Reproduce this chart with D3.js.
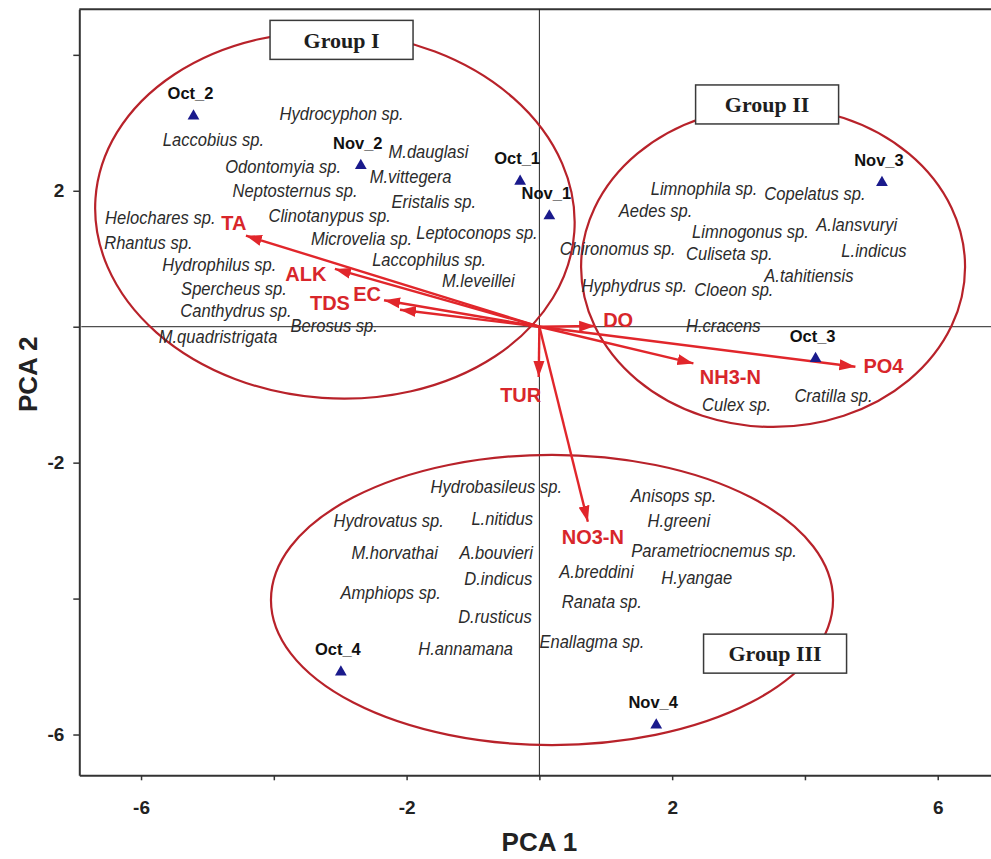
<!DOCTYPE html>
<html>
<head>
<meta charset="utf-8">
<script src="https://cdn.jsdelivr.net/npm/d3@7"></script>
<style>
  html, body { margin: 0; padding: 0; background: #fff; overflow: hidden; }
  svg { display: block; }
</style>
</head>
<body>
<svg id="chart" width="991" height="859"></svg>
<script>
// Sampling sites (PC1, PC2 scores)
const samples = [
  { id: "Oct_1", pc1: -0.29, pc2: 2.14 },
  { id: "Nov_1", pc1: 0.15, pc2: 1.63 },
  { id: "Oct_2", pc1: -5.21, pc2: 3.10 },
  { id: "Nov_2", pc1: -2.69, pc2: 2.37 },
  { id: "Oct_3", pc1: 4.16, pc2: -0.47 },
  { id: "Nov_3", pc1: 5.16, pc2: 2.12 },
  { id: "Oct_4", pc1: -2.99, pc2: -5.08 },
  { id: "Nov_4", pc1: 1.76, pc2: -5.86 }
];

// Environmental variable loadings (arrow tips)
const variables = [
  { name: "TA", pc1: -4.42, pc2: 1.34 },
  { name: "ALK", pc1: -3.08, pc2: 0.85 },
  { name: "EC", pc1: -2.34, pc2: 0.39 },
  { name: "TDS", pc1: -2.10, pc2: 0.25 },
  { name: "DO", pc1: 0.84, pc2: 0.01 },
  { name: "NH3-N", pc1: 2.32, pc2: -0.54 },
  { name: "PO4", pc1: 4.76, pc2: -0.59 },
  { name: "TUR", pc1: -0.01, pc2: -0.74 },
  { name: "NO3-N", pc1: 0.73, pc2: -2.87 }
];

// Taxa scores
const speciesGroupI = [
  { name: "Hydrocyphon sp.", pc1: -2.98, pc2: 3.13 },
  { name: "Laccobius sp.", pc1: -4.91, pc2: 2.75 },
  { name: "M.dauglasi", pc1: -1.67, pc2: 2.57 },
  { name: "Odontomyia sp.", pc1: -3.86, pc2: 2.36 },
  { name: "M.vittegera", pc1: -1.94, pc2: 2.21 },
  { name: "Neptosternus sp.", pc1: -3.68, pc2: 2.00 },
  { name: "Eristalis sp.", pc1: -1.59, pc2: 1.84 },
  { name: "Helochares sp.", pc1: -5.71, pc2: 1.61 },
  { name: "Clinotanypus sp.", pc1: -3.16, pc2: 1.64 },
  { name: "Microvelia sp.", pc1: -2.68, pc2: 1.30 },
  { name: "Leptoconops sp.", pc1: -0.94, pc2: 1.38 },
  { name: "Rhantus sp.", pc1: -5.89, pc2: 1.23 },
  { name: "Hydrophilus sp.", pc1: -4.82, pc2: 0.91 },
  { name: "Laccophilus sp.", pc1: -1.66, pc2: 0.99 },
  { name: "M.leveillei", pc1: -0.92, pc2: 0.67 },
  { name: "Spercheus sp.", pc1: -4.60, pc2: 0.56 },
  { name: "Canthydrus sp.", pc1: -4.57, pc2: 0.23 },
  { name: "Berosus sp.", pc1: -3.09, pc2: 0.015 },
  { name: "M.quadristrigata", pc1: -4.84, pc2: -0.15 }
];

const speciesGroupII = [
  { name: "Limnophila sp.", pc1: 2.48, pc2: 2.03 },
  { name: "Copelatus sp.", pc1: 4.15, pc2: 1.95 },
  { name: "Aedes sp.", pc1: 1.75, pc2: 1.71 },
  { name: "Limnogonus sp.", pc1: 3.18, pc2: 1.40 },
  { name: "A.lansvuryi", pc1: 4.78, pc2: 1.50 },
  { name: "Chironomus sp.", pc1: 1.18, pc2: 1.15 },
  { name: "Culiseta sp.", pc1: 2.86, pc2: 1.07 },
  { name: "L.indicus", pc1: 5.04, pc2: 1.12 },
  { name: "A.tahitiensis", pc1: 4.06, pc2: 0.75 },
  { name: "Hyphydrus sp.", pc1: 1.43, pc2: 0.60 },
  { name: "Cloeon sp.", pc1: 2.93, pc2: 0.54 },
  { name: "H.cracens", pc1: 2.77, pc2: 0.015 },
  { name: "Culex sp.", pc1: 2.97, pc2: -1.14 },
  { name: "Cratilla sp.", pc1: 4.43, pc2: -1.02 }
];

const speciesGroupIII = [
  { name: "Hydrobasileus sp.", pc1: -0.65, pc2: -2.36 },
  { name: "Anisops sp.", pc1: 2.02, pc2: -2.48 },
  { name: "Hydrovatus sp.", pc1: -2.27, pc2: -2.85 },
  { name: "L.nitidus", pc1: -0.56, pc2: -2.83 },
  { name: "H.greeni", pc1: 2.10, pc2: -2.86 },
  { name: "M.horvathai", pc1: -2.18, pc2: -3.33 },
  { name: "A.bouvieri", pc1: -0.65, pc2: -3.32 },
  { name: "Parametriocnemus sp.", pc1: 2.63, pc2: -3.30 },
  { name: "A.breddini", pc1: 0.86, pc2: -3.61 },
  { name: "H.yangae", pc1: 2.37, pc2: -3.69 },
  { name: "D.indicus", pc1: -0.62, pc2: -3.70 },
  { name: "Amphiops sp.", pc1: -2.24, pc2: -3.92 },
  { name: "Ranata sp.", pc1: 0.94, pc2: -4.05 },
  { name: "D.rusticus", pc1: -0.67, pc2: -4.27 },
  { name: "H.annamana", pc1: -1.11, pc2: -4.73 },
  { name: "Enallagma sp.", pc1: 0.79, pc2: -4.64 }
];

// Group ellipses (centre and semi-axes in score units) and their captions
const groups = [
  { label: "Group I", cx: -3.08, cy: 1.64, rx: 3.615, ry: 2.694, tilt: 4, capX: -2.98, capY: 4.22 },
  { label: "Group II", cx: 3.52, cy: 0.88, rx: 2.892, ry: 2.355, tilt: 0, capX: 3.43, capY: 3.27 },
  { label: "Group III", cx: 0.19, cy: -4.02, rx: 4.233, ry: 2.135, tilt: 0, capX: 3.55, capY: -4.81 }
];

const xTicks = [-6, -4, -2, 0, 2, 4, 6];
const xTickLabels = [-6, -2, 2, 6];
const yTicks = [4, 2, 0, -2, -4, -6];
const yTickLabels = [2, -2, -6];

// ---- layout ----
const svg = d3.select("#chart");
const plot = { left: 79.3, top: 9.3, bottom: 775.3 };
const x = d3.scaleLinear().domain([-6.93, 6.95]).range([plot.left, plot.left + 13.88 * 66.39]);
const y = d3.scaleLinear().domain([-6.6, 4.67]).range([plot.bottom, plot.top]);
const xMax = x.range()[1];

const red = "#e1262b";
const ellipseRed = "#b8222a";
const sans = "'Liberation Sans', Arial, Helvetica, sans-serif";

// label placement nudges for the variable names (pixels from the arrow tip)
const varNudge = {
  "TA": [-12, -13], "ALK": [-29, 5], "EC": [-17, -6], "TDS": [-70, -7],
  "DO": [23, -6], "NH3-N": [37, 13], "PO4": [28, -1], "TUR": [-18, 18], "NO3-N": [5, 15]
};

// frame top edge
svg.append("line")
  .attr("x1", plot.left).attr("x2", xMax)
  .attr("y1", plot.top).attr("y2", plot.top)
  .attr("stroke", "#333").attr("stroke-width", 2);

// axes
const xAxis = d3.axisBottom(x).tickValues(xTicks).tickSize(5).tickSizeOuter(0)
  .tickFormat(d => xTickLabels.includes(d) ? d : "");
const gx = svg.append("g").attr("transform", `translate(0,${plot.bottom})`).call(xAxis);
gx.select(".domain").attr("stroke", "#333").attr("stroke-width", 2);
gx.selectAll(".tick line").attr("stroke", "#333").attr("stroke-width", 1.5);
gx.selectAll(".tick text")
  .attr("y", 0).attr("dy", 0)
  .attr("transform", "translate(0,39)")
  .style("font-family", sans).style("font-weight", "bold").style("font-size", "19px")
  .attr("fill", "#222");

const yAxis = d3.axisLeft(y).tickValues(yTicks).tickSize(6).tickSizeOuter(0)
  .tickFormat(d => yTickLabels.includes(d) ? d : "");
const gy = svg.append("g").attr("transform", `translate(${plot.left},0)`).call(yAxis);
gy.select(".domain").attr("stroke", "#333").attr("stroke-width", 2);
gy.selectAll(".tick line").attr("stroke", "#333").attr("stroke-width", 1.5);
gy.selectAll(".tick text")
  .attr("x", -15)
  .style("font-family", sans).style("font-weight", "bold").style("font-size", "19px")
  .attr("fill", "#222");

// axis titles
svg.append("text")
  .attr("x", x(0)).attr("y", 851)
  .attr("text-anchor", "middle")
  .style("font-family", sans).style("font-weight", "bold").style("font-size", "26px")
  .attr("fill", "#222")
  .text("PCA 1");
svg.append("text")
  .attr("transform", `translate(37,${y(-0.7)}) rotate(-90)`)
  .attr("text-anchor", "middle")
  .style("font-family", sans).style("font-weight", "bold").style("font-size", "26px")
  .attr("fill", "#222")
  .text("PCA 2");

// zero reference lines
svg.append("line")
  .attr("x1", plot.left + 2).attr("x2", xMax)
  .attr("y1", y(0)).attr("y2", y(0))
  .attr("stroke", "#222").attr("stroke-width", 1);
svg.append("line")
  .attr("x1", x(0)).attr("x2", x(0))
  .attr("y1", plot.top).attr("y2", plot.bottom)
  .attr("stroke", "#222").attr("stroke-width", 1);

// group ellipses
svg.append("g").selectAll("ellipse").data(groups).join("ellipse")
  .attr("cx", d => x(d.cx)).attr("cy", d => y(d.cy))
  .attr("rx", d => x(d.cx + d.rx) - x(d.cx))
  .attr("ry", d => y(d.cy) - y(d.cy + d.ry))
  .attr("transform", d => `rotate(${d.tilt},${x(d.cx)},${y(d.cy)})`)
  .attr("fill", "none").attr("stroke", ellipseRed).attr("stroke-width", 2.2);

// arrowhead
svg.append("defs").append("marker")
  .attr("id", "head")
  .attr("markerUnits", "userSpaceOnUse")
  .attr("markerWidth", 17).attr("markerHeight", 12)
  .attr("refX", 16).attr("refY", 6)
  .attr("orient", "auto")
  .append("path").attr("d", "M0,0.5 L16,6 L0,11.5 Z").attr("fill", red);

// loading vectors
svg.append("g").selectAll("line").data(variables).join("line")
  .attr("x1", x(0)).attr("y1", y(0))
  .attr("x2", d => x(d.pc1)).attr("y2", d => y(d.pc2))
  .attr("stroke", red).attr("stroke-width", 2.4)
  .attr("marker-end", "url(#head)");

// variable names
svg.append("g").selectAll("text").data(variables).join("text")
  .attr("x", d => x(d.pc1) + varNudge[d.name][0])
  .attr("y", d => y(d.pc2) + varNudge[d.name][1])
  .attr("dy", "0.36em")
  .attr("text-anchor", "middle")
  .style("font-family", sans).style("font-weight", "bold").style("font-size", "20px")
  .attr("fill", "#d8262b")
  .text(d => d.name);

// taxa names
const allSpecies = speciesGroupI.concat(speciesGroupII, speciesGroupIII);
svg.append("g").selectAll("text").data(allSpecies).join("text")
  .attr("transform", d => `translate(${x(d.pc1)},${y(d.pc2)}) scale(0.92,1)`)
  .attr("dy", "0.35em")
  .attr("text-anchor", "middle")
  .style("font-family", sans).style("font-style", "italic").style("font-size", "18px")
  .attr("fill", "#2b2b2b")
  .text(d => d.name);

// group captions
const cap = svg.append("g").selectAll("g").data(groups).join("g")
  .attr("transform", d => `translate(${x(d.capX)},${y(d.capY)})`);
cap.append("rect")
  .attr("x", -71.5).attr("y", -19.5).attr("width", 143).attr("height", 39)
  .attr("fill", "#fff").attr("stroke", "#3a3a3a").attr("stroke-width", 1.5);
cap.append("text")
  .attr("text-anchor", "middle").attr("dy", "0.35em")
  .style("font-family", "'Liberation Serif', 'Times New Roman', serif")
  .style("font-weight", "bold").style("font-size", "22px")
  .attr("fill", "#1e1e1e")
  .text(d => d.label);

// sampling sites
svg.append("g").selectAll("path").data(samples).join("path")
  .attr("transform", d => `translate(${x(d.pc1)},${y(d.pc2)})`)
  .attr("d", d3.symbol(d3.symbolTriangle, 60))
  .attr("fill", "#1a1a8c");

svg.append("g").selectAll("text").data(samples).join("text")
  .attr("x", d => x(d.pc1) - 3)
  .attr("y", d => y(d.pc2) - 17)
  .attr("text-anchor", "middle")
  .style("font-family", sans).style("font-weight", "bold").style("font-size", "16.5px")
  .attr("fill", "#111")
  .text(d => d.name || d.id);
</script>
</body>
</html>
